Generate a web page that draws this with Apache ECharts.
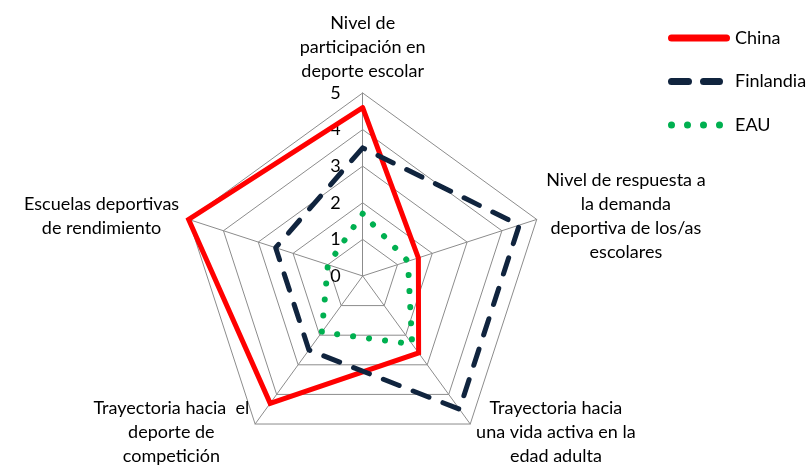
<!DOCTYPE html>
<html>
<head>
<meta charset="utf-8">
<script src="https://cdn.jsdelivr.net/npm/echarts@6/dist/echarts.min.js"></script>
<style>
    html, body { margin: 0; padding: 0; background: #fff; }
    #chart { width: 811px; height: 465px; }
</style>
</head>
<body>
<div id="chart"></div>
<script>
// indicadores (orden antihorario desde arriba, como los coloca echarts)
const indicators = [
    'Nivel de\nparticipación en\ndeporte escolar',
    'Escuelas deportivas\nde rendimiento',
    'Trayectoria hacia  el\ndeporte de\ncompetición',
    'Trayectoria hacia\nuna vida activa en la\nedad adulta',
    'Nivel de respuesta a\nla demanda\ndeportiva de los/as\nescolares'
];
const maxValue = 5;
const tickLabels = ['0', '1', '2', '3', '4', '5'];

const seriesNames = ['China', 'Finlandia', 'EAU'];
const chinaValues = [4.6, 5.0, 4.3, 2.6, 1.6];
const finlandiaValues = [3.5, 2.5, 2.5, 4.5, 4.5];
const eauValues = [1.7, 1.0, 1.9, 2.3, 1.3];

const FONT = 'Lato, "Liberation Sans", sans-serif';
const FONT_SIZE = 18;
const colors = ['#FF0000', '#10243E', '#00B050'];

// iconos de la leyenda (linea continua, guiones, puntos)
const legendIcons = [
    'path://M3.5,0H58.5A3.5,3.5,0,0,1,58.5,7H3.5A3.5,3.5,0,0,1,3.5,0Z',
    'path://M3.5,0H20.5A3.5,3.5,0,0,1,20.5,7H3.5A3.5,3.5,0,0,1,3.5,0Z' +
        'M35.5,0H51.5A3.5,3.5,0,0,1,51.5,7H35.5A3.5,3.5,0,0,1,35.5,0ZM62,0',
    'path://M0,3.5A3.5,3.5,0,1,0,7,3.5A3.5,3.5,0,1,0,0,3.5Z' +
        'M16,3.5A3.5,3.5,0,1,0,23,3.5A3.5,3.5,0,1,0,16,3.5Z' +
        'M32,3.5A3.5,3.5,0,1,0,39,3.5A3.5,3.5,0,1,0,32,3.5Z' +
        'M48,3.5A3.5,3.5,0,1,0,55,3.5A3.5,3.5,0,1,0,48,3.5ZM62,0'
];

const lineStyles = [
    { width: 5, type: 'solid', cap: 'round', join: 'miter' },
    { width: 5, type: [17, 15], cap: 'round', join: 'round' },
    { width: 6, type: [0.1, 16], cap: 'round', join: 'round' }
];
const valueLists = [chinaValues, finlandiaValues, eauValues];

let chart = echarts.init(document.getElementById('chart'));

let option = {
    animation: false,
    textStyle: { fontFamily: FONT },
    legend: {
        orient: 'vertical',
        left: 663,
        top: 23,
        itemWidth: 62,
        itemHeight: 7,
        itemGap: 23.5,
        textStyle: { color: '#000', fontSize: FONT_SIZE, fontFamily: FONT, lineHeight: 20 },
        data: seriesNames.map((n, i) => ({ name: n, icon: legendIcons[i] }))
    },
    radar: {
        center: ['44.72%', '59.35%'],
        radius: 183,
        shape: 'polygon',
        splitNumber: 5,
        nameGap: 10,
        axisName: {
            color: '#000',
            fontSize: FONT_SIZE,
            fontFamily: FONT,
            lineHeight: 24,
            formatter: function (name) {
                return name.split('\n').map(l => '{c|' + l + '}').join('\n');
            },
            rich: {
                c: { align: 'center', fontSize: FONT_SIZE, lineHeight: 24, color: '#000', fontFamily: FONT }
            }
        },
        axisLine: { lineStyle: { color: '#8C8C8C', width: 1 } },
        splitLine: { lineStyle: { color: '#8C8C8C', width: 1 } },
        splitArea: { show: false },
        axisTick: { show: false },
        axisLabel: { show: false },
        indicator: indicators.map((name, i) => {
            let ind = { name: name, min: 0, max: maxValue };
            if (i === 0) {
                // solo el eje superior lleva las etiquetas 0..5
                ind.axisLabel = {
                    show: true,
                    color: '#000',
                    fontSize: FONT_SIZE,
                    fontFamily: FONT,
                    margin: 22,
                    formatter: v => tickLabels[Math.round(v)]
                };
            }
            return ind;
        })
    },
    series: [{
        type: 'radar',
        symbol: 'none',
        data: valueLists.map((vals, i) => ({
            name: seriesNames[i],
            value: vals,
            lineStyle: Object.assign({ color: colors[i] }, lineStyles[i]),
            itemStyle: { color: colors[i] }
        }))
    }]
};

chart.setOption(option);
</script>
</body>
</html>
